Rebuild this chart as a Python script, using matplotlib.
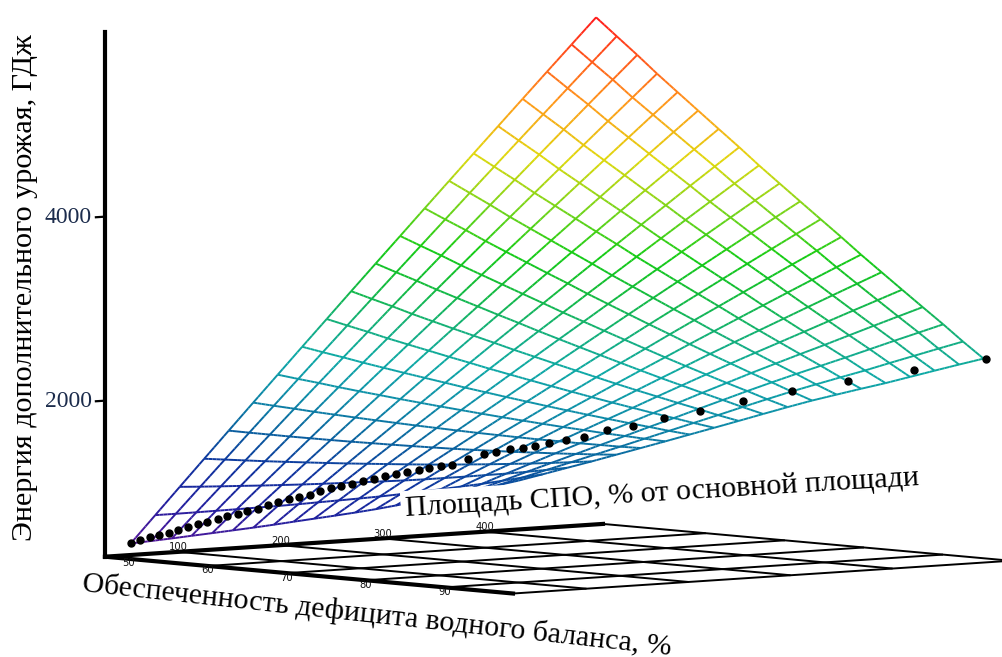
import numpy as np
import matplotlib
matplotlib.use("Agg")
import matplotlib.pyplot as plt
from matplotlib.colors import LinearSegmentedColormap, Normalize
from mpl_toolkits.mplot3d import proj3d
from mpl_toolkits.mplot3d.art3d import Line3DCollection

# ---- data ----
area = [30, 54, 78, 102, 126, 150, 174, 198, 222, 246, 270, 294, 318, 342, 366, 390, 414, 438, 462, 486]
water = [50.0, 52.6, 55.2, 57.7, 60.3, 62.9, 65.5, 68.1, 70.6, 73.2, 75.8, 78.4, 81.0, 83.5, 86.1, 88.7, 91.3, 93.9, 96.4, 99.0]
energy = [
    [470, 760, 1050, 1338, 1626, 1913, 2199, 2485, 2769, 3054, 3337, 3619, 3902, 4183, 4464, 4743, 5022, 5301, 5578, 5855],
    [517, 795, 1072, 1349, 1624, 1899, 2173, 2446, 2719, 2991, 3262, 3532, 3802, 4072, 4340, 4607, 4874, 5140, 5406, 5670],
    [565, 831, 1096, 1360, 1623, 1887, 2149, 2410, 2670, 2930, 3189, 3447, 3705, 3962, 4218, 4474, 4729, 4983, 5236, 5487],
    [613, 867, 1120, 1371, 1622, 1873, 2123, 2372, 2619, 2867, 3114, 3360, 3606, 3850, 4094, 4337, 4580, 4822, 5062, 5303],
    [662, 904, 1144, 1384, 1623, 1862, 2099, 2336, 2572, 2807, 3042, 3276, 3509, 3742, 3974, 4205, 4435, 4665, 4894, 5122],
    [712, 942, 1170, 1398, 1624, 1851, 2077, 2301, 2525, 2748, 2971, 3193, 3414, 3635, 3854, 4073, 4292, 4509, 4726, 4942],
    [762, 980, 1196, 1412, 1626, 1841, 2054, 2267, 2478, 2690, 2900, 3110, 3319, 3528, 3735, 3942, 4148, 4354, 4558, 4762],
    [814, 1019, 1224, 1427, 1630, 1832, 2033, 2234, 2433, 2633, 2831, 3028, 3226, 3422, 3618, 3812, 4006, 4200, 4392, 4584],
    [866, 1059, 1252, 1443, 1633, 1824, 2013, 2201, 2388, 2576, 2762, 2947, 3133, 3317, 3500, 3683, 3865, 4046, 4226, 4406],
    [919, 1100, 1281, 1460, 1638, 1817, 1994, 2170, 2345, 2521, 2695, 2868, 3042, 3214, 3385, 3556, 3726, 3895, 4063, 4230],
    [972, 1141, 1310, 1477, 1643, 1810, 1975, 2139, 2302, 2466, 2628, 2789, 2951, 3111, 3270, 3429, 3587, 3744, 3900, 4055],
    [1026, 1183, 1340, 1495, 1649, 1804, 1957, 2109, 2260, 2412, 2562, 2711, 2861, 3009, 3156, 3303, 3449, 3594, 3738, 3881],
    [1083, 1228, 1372, 1515, 1657, 1800, 1940, 2080, 2219, 2359, 2497, 2634, 2773, 2909, 3043, 3178, 3312, 3445, 3577, 3708],
    [1142, 1274, 1406, 1536, 1666, 1796, 1925, 2053, 2180, 2308, 2435, 2560, 2686, 2809, 2932, 3054, 3176, 3297, 3417, 3536],
    [1202, 1321, 1441, 1558, 1675, 1793, 1910, 2026, 2141, 2257, 2372, 2486, 2600, 2711, 2820, 2930, 3040, 3149, 3257, 3365],
    [1265, 1371, 1478, 1582, 1687, 1793, 1897, 2001, 2104, 2209, 2312, 2414, 2516, 2614, 2711, 2808, 2906, 3003, 3099, 3195],
    [1328, 1420, 1514, 1606, 1699, 1791, 1883, 1976, 2067, 2160, 2252, 2342, 2432, 2518, 2603, 2686, 2772, 2858, 2942, 3026],
    [1394, 1474, 1554, 1633, 1713, 1793, 1873, 1954, 2033, 2114, 2194, 2274, 2351, 2425, 2496, 2567, 2641, 2715, 2787, 2859],
    [1462, 1528, 1594, 1660, 1727, 1794, 1863, 1931, 1999, 2067, 2137, 2205, 2271, 2331, 2390, 2447, 2510, 2571, 2632, 2691],
    [1532, 1584, 1637, 1689, 1744, 1799, 1854, 1911, 1967, 2024, 2082, 2139, 2193, 2240, 2286, 2330, 2380, 2430, 2479, 2526],
]
dot_area = [30, 32.3, 34.7, 37, 39.4, 41.8, 44.2, 46.6, 49, 51.5, 54, 56.5, 58.9, 61.4, 64, 66.6, 69.2, 71.7, 74.4, 76.9,
            79.6, 82.3, 85, 87.6, 90.3, 93.1, 95.8, 98.6, 101.4, 104.2, 106.9, 109.6, 113.7, 124, 133.4, 143.3, 152.2,
            161.1, 171.4, 183.5, 197.2, 213.1, 232.1, 254.5, 280.4, 311.3, 346.7, 387.3, 434.5, 487.2]
dot_water = [50, 50.9, 51.8, 52.7, 53.6, 54.5, 55.4, 56.3, 57.2, 58.2, 59.1, 60.1, 61, 62, 63, 63.9, 64.9, 65.9, 66.9, 67.9,
             68.9, 69.9, 70.9, 71.9, 73, 74, 75, 76.1, 77.2, 78.2, 79.3, 80.3, 81.9, 82.5, 82.9, 83.3, 83.8,
             84.2, 84.6, 85.2, 85.8, 86.6, 87.4, 88.5, 89.7, 91.1, 92.7, 94.6, 96.8, 99.2]
dot_energy = [478, 516, 549, 580, 607, 645, 678, 713, 747, 781, 819, 854, 891, 919, 964, 1002, 1036, 1071, 1098, 1144,
              1178, 1205, 1237, 1279, 1310, 1342, 1369, 1404, 1428, 1456, 1483, 1500, 1577, 1622, 1642, 1671, 1681,
              1696, 1728, 1752, 1786, 1848, 1891, 1965, 2037, 2130, 2227, 2318, 2418, 2526]
area_ticks = [100, 200, 300, 400]
water_ticks = [50, 60, 70, 80, 90]
energy_ticks = [2000, 4000]
area_lim = (28, 516)
water_lim = (47, 98.6)
energy_lim = (304, 6007)
z_title = "Энергия дополнительного урожая, ГДж"
area_title = "Площадь СПО, % от основной площади"
water_title = "Обеспеченность дефицита водного баланса, %"

W, H = 1003, 657
SERIF = "Liberation Serif"
fig = plt.figure(figsize=(W / 100, H / 100), dpi=100, facecolor="white")
ax = fig.add_axes([0, 0, 1, 1], projection="3d", proj_type="ortho")
ax.computed_zorder = False
ax.set_axis_off()

elev, azim = 4.42, -40.5
A, e = np.radians(-azim), np.radians(elev)
ax.set_xlim(*water_lim)
ax.set_ylim(*area_lim)
ax.set_zlim(*energy_lim)
ax.set_box_aspect((408 / np.sin(A), 498 / np.cos(A), 524.7 / np.cos(e)))
ax.view_init(elev=elev, azim=azim)


def norm_xy(x, y, z):
    a, b, _ = proj3d.proj_transform(x, y, z, ax.get_proj())
    vl = ax.viewLim
    return (a - vl.x0) / vl.width, (b - vl.y0) / vl.height


# Place the square 3D axes so that the floor axes land where the picture has them.
n0 = norm_xy(water_lim[0], area_lim[0], energy_lim[0])
n1 = norm_xy(water_lim[0], area_lim[1], energy_lim[0])
S = (603 - 105) / (n1[0] - n0[0])
L = 105 - S * n0[0]
B = (H - 556.7) - S * n0[1]
ax.set_position([L / W, B / H, S / W, S / H])


def fig_xy(x, y, z, dx=0, dy=0):
    """Figure fraction of a data point, with an offset in pixels (dy down)."""
    nx, ny = norm_xy(x, y, z)
    return (L + S * nx + dx) / W, (B + S * ny - dy) / H


# floor
w0, w1 = water_lim
a0, a1 = area_lim
z0, z1 = energy_lim
floor_kw = dict(color="black", lw=1.4, solid_capstyle="butt", clip_on=False)
for t in area_ticks + [a1]:
    ax.plot([w0, w1], [t, t], [z0, z0], **floor_kw)
for t in water_ticks[1:] + [w1]:
    ax.plot([t, t], [a0, a1], [z0, z0], **floor_kw)
axis_kw = dict(color="black", lw=3.0, solid_capstyle="projecting", clip_on=False)
ax.plot([w0, w0], [a0, a1], [z0, z0], **axis_kw)
ax.plot([w0, w1], [a0, a0], [z0, z0], **axis_kw)
ax.plot([w0, w0], [a0, a0], [z0, z1], **axis_kw)

# wireframe coloured by height
cmap = LinearSegmentedColormap.from_list("mesh", [
    (0.000, (0.33, 0.08, 0.60)), (0.080, (0.12, 0.12, 0.62)), (0.154, (0.05, 0.20, 0.62)),
    (0.219, (0.03, 0.38, 0.62)), (0.293, (0.05, 0.56, 0.66)), (0.358, (0.05, 0.66, 0.65)),
    (0.414, (0.07, 0.68, 0.50)), (0.507, (0.07, 0.74, 0.20)), (0.563, (0.08, 0.80, 0.08)),
    (0.637, (0.42, 0.83, 0.10)), (0.739, (0.88, 0.85, 0.05)), (0.841, (1.00, 0.60, 0.10)),
    (1.000, (1.00, 0.10, 0.10))])
E = np.array(energy, float)
AA, WW = np.meshgrid(area, water)
segs, seg_z = [], []


def add_edge(p, q):
    for k in range(5):
        s0, s1 = k / 5, (k + 1) / 5
        segs.append([p + (q - p) * s0, p + (q - p) * s1])
        seg_z.append(p[2] + (q[2] - p[2]) * (s0 + s1) / 2)


P = np.dstack([WW, AA, E])
for r in range(P.shape[0]):
    for c in range(P.shape[1]):
        if c + 1 < P.shape[1]:
            add_edge(P[r, c], P[r, c + 1])
        if r + 1 < P.shape[0]:
            add_edge(P[r, c], P[r + 1, c])
mesh = Line3DCollection(segs, cmap=cmap, norm=Normalize(470, 5855), linewidths=1.4, clip_on=False)
mesh.set_array(np.array(seg_z))
ax.add_collection3d(mesh)

# measured points
ax.plot(dot_water, dot_area, dot_energy, ls="none", marker="o", ms=5.0, color="black", clip_on=False)

# tick labels on the axes
tick_kw = dict(family="DejaVu Sans", fontsize=7.2, color="#111111", ha="center", va="center", zorder=6)
for t in area_ticks:
    fx, fy = fig_xy(w0, t, z0, dy=-4.5)
    fig.text(fx, fy, str(t), **tick_kw)
for t in water_ticks:
    fx, fy = fig_xy(t, a0, z0, dy=4.5)
    fig.text(fx, fy, str(t), **tick_kw)
for t in energy_ticks:
    ax.plot([w0, w0], [a0 - 10, a0], [t, t], color="black", lw=1.6, solid_capstyle="butt", clip_on=False)
    fx, fy = fig_xy(w0, a0, t, dx=-13, dy=1)
    fig.text(fx, fy, str(t), family=SERIF, fontsize=17, color="#1c2c4c", ha="right", va="center", zorder=6)

fig.text(25 / W, 1 - 288 / H, z_title, family=SERIF, fontsize=21.7, rotation=90, ha="center", va="center")
fig.text(662 / W, 1 - 493 / H, area_title, family=SERIF, fontsize=21.7, rotation=3.45, rotation_mode="anchor",
         ha="center", va="center", bbox=dict(facecolor="white", edgecolor="none", pad=3), zorder=5)
fig.text(377 / W, 1 - 615 / H, water_title, family=SERIF, fontsize=21.5, rotation=-6.2, rotation_mode="anchor",
         ha="center", va="center", zorder=5)

fig.savefig("out.png", dpi=100, facecolor="white")
